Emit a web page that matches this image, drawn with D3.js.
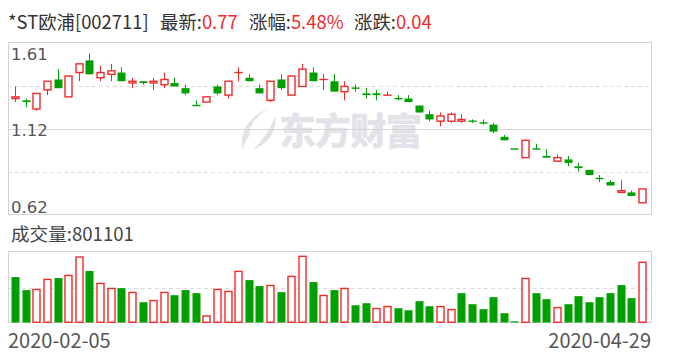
<!DOCTYPE html>
<html><head><meta charset="utf-8">
<script src="https://cdn.jsdelivr.net/npm/d3@7/dist/d3.min.js"></script>
<style>html,body{margin:0;padding:0;background:#fff;}svg{display:block;}</style>
</head><body>
<svg id="chart" width="688" height="360"></svg>
<script>
// ---------- data ----------
const dates = [
 "2020-02-05","2020-02-06","2020-02-07","2020-02-10","2020-02-11","2020-02-12","2020-02-13","2020-02-14",
 "2020-02-17","2020-02-18","2020-02-19","2020-02-20","2020-02-21","2020-02-24","2020-02-25","2020-02-26",
 "2020-02-27","2020-02-28","2020-03-02","2020-03-03","2020-03-04","2020-03-05","2020-03-06","2020-03-09",
 "2020-03-10","2020-03-11","2020-03-12","2020-03-13","2020-03-16","2020-03-17","2020-03-18","2020-03-19",
 "2020-03-20","2020-03-23","2020-03-24","2020-03-25","2020-03-26","2020-03-27","2020-03-30","2020-03-31",
 "2020-04-01","2020-04-02","2020-04-03","2020-04-07","2020-04-08","2020-04-09","2020-04-10","2020-04-13",
 "2020-04-14","2020-04-15","2020-04-16","2020-04-17","2020-04-20","2020-04-21","2020-04-22","2020-04-23",
 "2020-04-24","2020-04-27","2020-04-28","2020-04-29"];
const openP = [1.29,1.28,1.23,1.34,1.40,1.30,1.44,1.51,1.41,1.43,1.44,1.38,1.39,1.38,1.37,1.38,1.35,1.25,1.27,1.36,
               1.31,1.44,1.41,1.35,1.28,1.40,1.31,1.36,1.44,1.40,1.39,1.33,1.35,1.32,1.32,1.31,1.29,1.29,1.25,1.20,
               1.16,1.16,1.16,1.16,1.15,1.14,1.07,1.00,0.95,1.00,0.96,0.93,0.94,0.90,0.88,0.83,0.81,0.75,0.75,0.69];
const highP = [1.36,1.29,1.32,1.39,1.46,1.42,1.49,1.55,1.48,1.49,1.47,1.41,1.39,1.41,1.44,1.41,1.37,1.28,1.30,1.37,
               1.39,1.47,1.43,1.37,1.39,1.43,1.42,1.49,1.47,1.43,1.43,1.39,1.37,1.35,1.34,1.33,1.31,1.31,1.25,1.22,
               1.21,1.21,1.20,1.17,1.17,1.15,1.08,1.00,1.05,1.03,1.00,0.97,0.96,0.92,0.88,0.85,0.82,0.82,0.76,0.77];
const lowP  = [1.27,1.24,1.22,1.31,1.35,1.30,1.39,1.43,1.39,1.39,1.39,1.35,1.37,1.34,1.35,1.36,1.31,1.25,1.27,1.31,
               1.29,1.39,1.39,1.32,1.27,1.34,1.31,1.36,1.39,1.34,1.33,1.28,1.33,1.29,1.28,1.31,1.28,1.27,1.21,1.16,
               1.13,1.15,1.15,1.15,1.14,1.09,1.05,1.00,0.95,1.00,0.95,0.93,0.90,0.87,0.85,0.81,0.79,0.75,0.73,0.69];
const closeP= [1.30,1.27,1.32,1.39,1.35,1.42,1.49,1.43,1.44,1.45,1.39,1.39,1.38,1.39,1.40,1.36,1.32,1.25,1.30,1.32,
               1.39,1.44,1.39,1.32,1.39,1.35,1.42,1.46,1.39,1.40,1.33,1.36,1.35,1.31,1.31,1.31,1.29,1.27,1.21,1.17,
               1.19,1.20,1.17,1.16,1.15,1.10,1.05,1.00,1.05,1.00,0.95,0.95,0.92,0.89,0.85,0.83,0.79,0.76,0.73,0.77];
const volume = [606000,434000,442000,575000,593000,628000,871000,686000,522000,456000,
                460000,403000,274000,296000,403000,367000,434000,394000,93000,442000,
                416000,681000,566000,487000,495000,407000,615000,880000,540000,363000,
                434000,456000,234000,261000,191000,217000,195000,168000,288000,221000,
                217000,177000,394000,248000,182000,341000,129000,22000,588000,394000,
                314000,203000,248000,354000,274000,341000,394000,500000,328000,801101];
const prevCloseBefore = 1.31;
const priceDomain = [0.62, 1.61];
const priceTickLabels = ["1.61", "1.12", "0.62"];
const volumeMax = 937000;
const dateTickLabels = ["2020-02-05", "2020-04-29"];
const headerLabels = ["*ST欧浦[002711]", "最新:", "涨幅:", "涨跌:"];
const headerValues = ["", "0.77", "5.48%", "0.04"];
const volumeTitle = "成交量:";
const volumeValue = "801101";

// ---------- drawing ----------
const RED = "#f02a2a", GREEN = "#009f00", GRID = "#d6d6d6", FRAME = "#d3d3d3";
const CJK = "'Noto Sans CJK SC','Noto Sans',sans-serif";
const svg = d3.select("#chart");
const L = 8, R = 651, PT = 43, PB = 215, VT = 252, VB = 323;

const x = d3.scalePoint().domain(d3.range(dates.length)).range([15, 642]);
const y = d3.scaleLinear().domain(priceDomain).range([PB, PT]);
const yv = d3.scaleLinear().domain([0, volumeMax]).range([VB, VT]);

// header
const hx = [8, 160, 249, 354];
headerLabels.forEach((lab, i) => {
  const t = svg.append("text").attr("x", hx[i]).attr("y", 29)
    .attr("font-family", CJK).attr("font-size", 18.4).attr("fill", "#333");
  t.append("tspan").text(lab);
  if (headerValues[i]) t.append("tspan").attr("fill", RED).text(headerValues[i]);
});

// watermark
const wm = svg.append("g").attr("fill", "#e2e2e8");
wm.append("path").attr("d",
  "M268 109 C252 115 238 130 243 149 C246 137 255 127 267 121 C258 125 252 131 249 137 C249 125 256 116 268 109 Z");
wm.append("path").attr("d",
  "M275 116 C278 131 268 144 253 150 C263 140 270 130 275 116 Z");
wm.append("text").attr("x", 279).attr("y", 145).attr("font-family", CJK)
  .attr("font-weight", 900).attr("font-size", 37).attr("letter-spacing", -1.5).text("东方财富");

// price frame + grid
const span = priceDomain[1] - priceDomain[0];
[0.25, 0.5, 0.75].forEach(f => {
  const yy = Math.round(y(priceDomain[0] + span * f)) + 0.5;
  svg.append("line").attr("x1", L).attr("x2", R).attr("y1", yy).attr("y2", yy)
    .attr("stroke", f === 0.5 ? GRID : "#dcdcdc").attr("stroke-width", 1)
    .attr("stroke-dasharray", f === 0.5 ? null : "4,3");
});
svg.append("rect").attr("x", L + 0.5).attr("y", PT - 0.5).attr("width", R - L).attr("height", PB - PT)
  .attr("fill", "none").attr("stroke", FRAME);

// volume frame + grid
const vmid = Math.round(yv(volumeMax / 2)) + 0.5;
svg.append("line").attr("x1", L).attr("x2", R).attr("y1", vmid).attr("y2", vmid)
  .attr("stroke", "#dcdcdc").attr("stroke-dasharray", "4,3");
svg.append("rect").attr("x", L + 0.5).attr("y", VT - 0.5).attr("width", R - L).attr("height", VB - VT)
  .attr("fill", "none").attr("stroke", FRAME);

// candles
const candles = svg.append("g");
dates.forEach((d, i) => {
  const o = openP[i], c = closeP[i], h = highP[i], l = lowP[i];
  const prev = i === 0 ? prevCloseBefore : closeP[i - 1];
  const up = c > o || (c === o && c >= prev);
  const col = up ? RED : GREEN;
  const xr = Math.round(x(i));
  const cx = xr + 0.5;
  const yTop = y(Math.max(o, c)), yBot = y(Math.min(o, c));
  if (up) {
    candles.append("line").attr("x1", cx).attr("x2", cx).attr("y1", y(h)).attr("y2", yTop)
      .attr("stroke", col);
    candles.append("line").attr("x1", cx).attr("x2", cx).attr("y1", yBot).attr("y2", y(l))
      .attr("stroke", col);
    candles.append("rect").attr("x", xr - 3).attr("y", yTop).attr("width", 7)
      .attr("height", Math.max(0.01, yBot - yTop))
      .attr("fill", "#fff").attr("stroke", col).attr("stroke-width", 1.4);
  } else {
    candles.append("line").attr("x1", cx).attr("x2", cx).attr("y1", y(h)).attr("y2", y(l))
      .attr("stroke", col);
    const hh = Math.max(1.4, yBot - yTop);
    candles.append("rect").attr("x", xr - 3.5).attr("y", yTop - (hh > yBot - yTop ? 0.7 : 0))
      .attr("width", 8).attr("height", hh).attr("fill", col);
  }
});

// volume bars
const vg = svg.append("g");
volume.forEach((v, i) => {
  const prev = i === 0 ? prevCloseBefore : closeP[i - 1];
  const up = closeP[i] >= prev;
  const xr = Math.round(x(i));
  if (up) {
    vg.append("rect").attr("x", xr - 3).attr("y", yv(v)).attr("width", 7)
      .attr("height", VB - yv(v) - 0.7)
      .attr("fill", "#fff").attr("stroke", RED).attr("stroke-width", 1.4);
  } else {
    vg.append("rect").attr("x", xr - 3.5).attr("y", yv(v)).attr("width", 8)
      .attr("height", VB - yv(v) - 0.5).attr("fill", GREEN);
  }
});

// price tick labels
const tickY = [PT + 17, (PT + PB) / 2 + 7, PB - 2];
priceTickLabels.forEach((t, i) => {
  svg.append("text").attr("x", 11).attr("y", tickY[i])
    .attr("font-family", "'DejaVu Sans',sans-serif").attr("font-size", 16.5)
    .attr("fill", "#555").text(t);
});

// volume title
const vt = svg.append("text").attr("x", 11).attr("y", 241)
  .attr("font-family", CJK).attr("font-size", 18.6).attr("fill", "#444");
vt.append("tspan").text(volumeTitle);
vt.append("tspan").text(volumeValue);

// date labels
svg.append("text").attr("x", L).attr("y", 348).attr("font-family", CJK).attr("font-size", 20)
  .attr("fill", "#555").text(dateTickLabels[0]);
svg.append("text").attr("x", R).attr("y", 348).attr("text-anchor", "end").attr("font-family", CJK)
  .attr("font-size", 20).attr("fill", "#555").text(dateTickLabels[1]);
</script>
</body></html>
